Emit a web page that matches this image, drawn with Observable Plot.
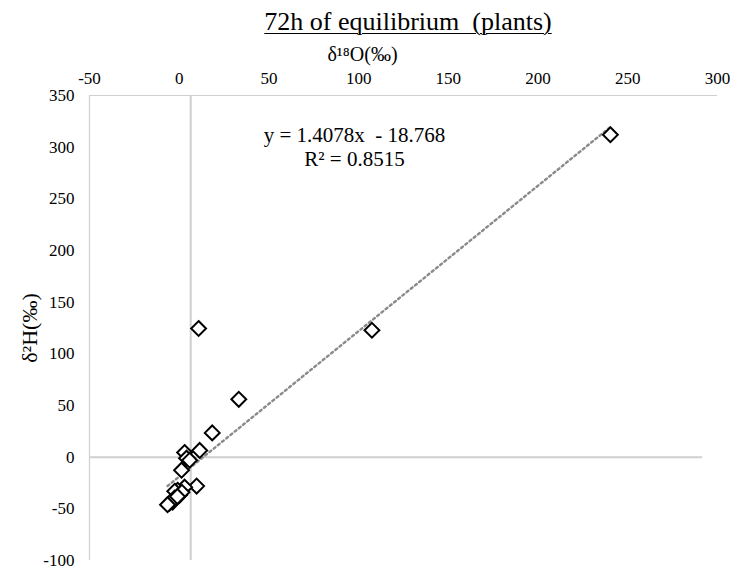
<!DOCTYPE html>
<html>
<head>
<meta charset="utf-8">
<script src="https://cdn.jsdelivr.net/npm/d3@7"></script>
<script src="https://cdn.jsdelivr.net/npm/@observablehq/plot@0.6"></script>
<style>
  body { margin: 0; background: #fff; }
  #title { height: 40px; width: 736px; box-sizing: border-box; padding-left: 80px; text-align: center;
    font-family: "Liberation Serif", "DejaVu Serif", serif; font-size: 26px; line-height: 44px; }
  #title span { text-decoration: underline; text-decoration-thickness: 1px; text-underline-offset: 3px; }
  #chart svg text { font-family: "Liberation Serif", "DejaVu Serif", serif !important; }
</style>
</head>
<body>
<div id="title"><span>72h of equilibrium&nbsp; (plants)</span></div>
<div id="chart"></div>
<script>
// δ18O values (x) and δ2H values (y)
const d18O = [240.3, 107.4, 10.8, 33.2, 18.4, 11.4, 9.7, 3.0, 4.1, 5.8, 1.3, 3.0, -0.9, -2.5, 0.2, -2.6, -3.7, -5.4, -6.5, 1.5, -1.0];
const d2H  = [312.0, 122.8, 124.5, 56.0, 23.5, 6.5, -28.0, 4.5, -1.0, -3.0, -12.6, -29.0, -32.0, -33.0, -36.7, -39.7, -43.5, -44.5, -46.0, -34.0, -38.0];
const xTicks = [-50, 0, 50, 100, 150, 200, 250, 300];
const yTicks = [-100, -50, 0, 50, 100, 150, 200, 250, 300, 350];
const slope = 1.4078, intercept = -18.768, r2 = 0.8515;
const crossX = 6.4;      // vertical crossing line position (x units)
const zeroLineEnd = 291.7;

const points = d18O.map((x, i) => ({x, y: d2H[i]}));
const xmin = d3.min(d18O), xmax = d3.max(d18O);
const trend = [xmin, xmax].map(x => ({x, y: slope * x + intercept}));

const serif = '"Liberation Serif", "DejaVu Serif", serif';
const grid = "#cfcfcf";
const fmt = d => String(d);

const chart = Plot.plot({
  width: 736,
  height: 529,
  marginTop: 55,
  marginLeft: 89,
  marginRight: 19,
  marginBottom: 9,
  style: {fontFamily: serif, fontSize: "17px", color: "#000", background: "#fff"},
  x: {domain: [-50, 300], ticks: xTicks, label: null},
  y: {domain: [-100, 350], ticks: yTicks, label: null},
  marks: [
    Plot.ruleY([350], {stroke: grid, strokeWidth: 1.2}),
    Plot.ruleX([-50], {stroke: grid, strokeWidth: 1.2}),
    Plot.ruleY([0], {x1: -50, x2: zeroLineEnd, stroke: grid, strokeWidth: 2}),
    Plot.ruleX([crossX], {stroke: grid, strokeWidth: 2}),
    Plot.axisX({anchor: "top", ticks: xTicks, tickFormat: fmt, tickSize: 0, tickPadding: 12, fontSize: 17, label: null}),
    Plot.axisY({anchor: "left", ticks: yTicks, tickFormat: fmt, tickSize: 0, tickPadding: 15, fontSize: 17, label: null}),
    Plot.line(trend, {x: "x", y: "y", stroke: "#8a8a8a", strokeWidth: 2.4, strokeDasharray: "2.2,3.2"}),
    Plot.dot(points, {x: "x", y: "y", symbol: "diamond2", r: 6.7, stroke: "#000", strokeWidth: 2, fill: "#fff"}),
    Plot.text(["δ¹⁸O(‰)"], {frameAnchor: "top", dx: -41, dy: -49, fontSize: 20, fill: "#000"}),
    Plot.text(["δ²H(‰)"], {frameAnchor: "left", textAnchor: "middle", dx: -60, dy: 0, rotate: -90, fontSize: 22, fill: "#000"}),
    Plot.text([`y = ${slope}x  - ${Math.abs(intercept)}`], {frameAnchor: "top-left", dx: 265, dy: 32, textAnchor: "middle", fontSize: 21, fill: "#000"}),
    Plot.text([`R² = ${r2}`], {frameAnchor: "top-left", dx: 265, dy: 56, textAnchor: "middle", fontSize: 21, fill: "#000"})
  ]
});
document.getElementById("chart").appendChild(chart);
</script>
</body>
</html>
